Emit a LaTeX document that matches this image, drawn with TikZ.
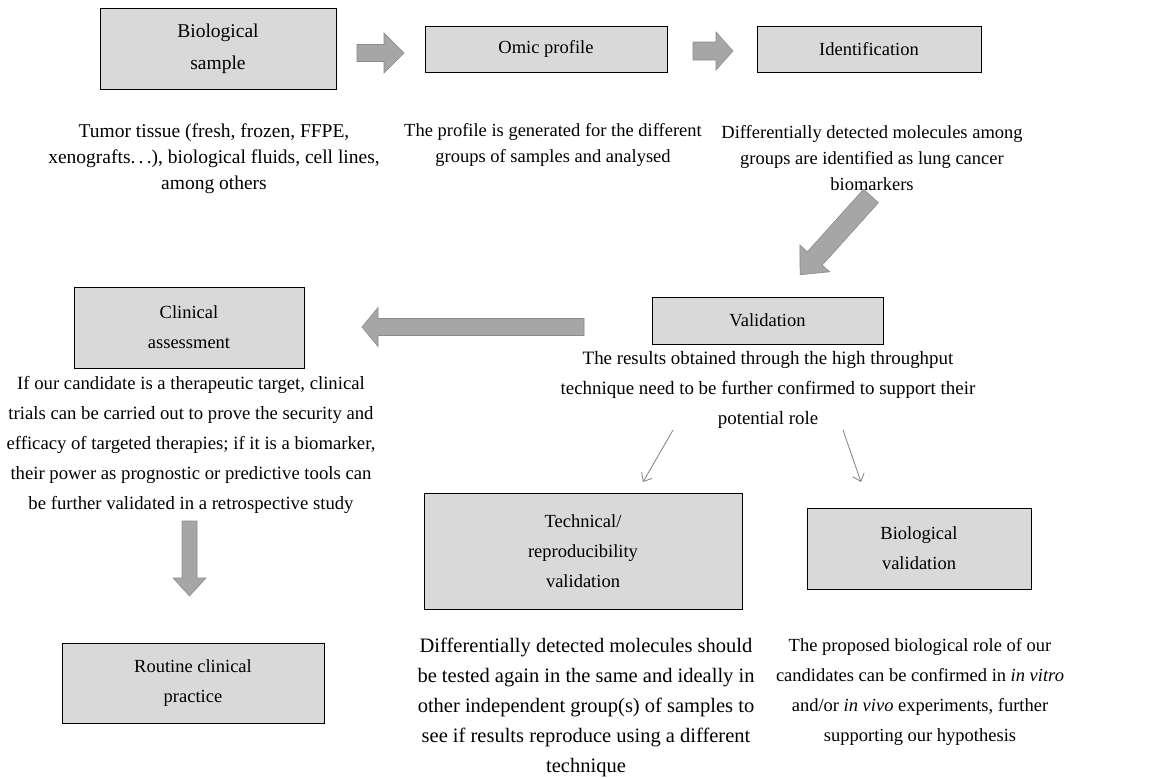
\documentclass[tikz,border=0pt]{standalone}
\usepackage{fontspec}
\setmainfont{Liberation Serif}
\usetikzlibrary{arrows.meta}
\definecolor{boxfill}{HTML}{D9D9D9}
\definecolor{arrfill}{HTML}{A6A6A6}
\definecolor{arrline}{HTML}{8C8C8C}
\definecolor{thinline}{HTML}{808080}
% start, angle, length, shaft half width, head half width, head length
\newcommand{\blockarrow}[6]{%
  \draw[bigarr, shift={#1}, rotate=#2] (0,-#4) -- ({#3-#6},-#4) -- ({#3-#6},-#5) -- (#3,0)
    -- ({#3-#6},#5) -- ({#3-#6},#4) -- (0,#4) -- cycle;}
\newcommand{\fs}[2]{\fontsize{#1}{#2}\selectfont}
\begin{document}
\begin{tikzpicture}[x=1pt,y=-1pt,
  box/.style={draw=black, fill=boxfill, line width=0.9pt, align=center, inner sep=0pt,
    font=\fs{18.5}{30}},
  desc/.style={align=center, inner sep=0pt},
  bigarr/.style={fill=arrfill, draw=arrline, line width=0.6pt, line join=miter},
  thinarr/.style={draw=thinline, line width=0.8pt, -{Straight Barb[length=7pt,width=12pt]}}]
\useasboundingbox[fill=white] (0,0) rectangle (1157,777);

% boxes
\node[box, minimum width=236pt, minimum height=81pt, font=\fs{19.5}{32}] (bs) at (218,48.5) {Biological\\sample};
\node[box, minimum width=242pt, minimum height=46pt] (op) at (546,49) {Omic profile};
\node[box, minimum width=224pt, minimum height=46pt] (id) at (869,49) {Identification};
\node[box, minimum width=230pt, minimum height=81pt] (ca) at (189,327.5) {Clinical\\assessment};
\node[box, minimum width=231pt, minimum height=47pt] (val) at (767.5,320.5) {Validation};
\node[box, minimum width=318pt, minimum height=116pt] (tech) at (583,551) {Technical/\\reproducibility\\validation};
\node[box, minimum width=224pt, minimum height=81pt] (bv) at (919,548.5) {Biological\\validation};
\node[box, minimum width=262pt, minimum height=80pt] (rcp) at (193,683) {Routine clinical\\practice};

% descriptions
\node[desc, font=\fs{19.5}{26}] (d1) at (214,159) {Tumor tissue (fresh, frozen, FFPE,\\xenografts.\,.\,.), biological fluids, cell lines,\\among others};
\node[desc, font=\fs{18.5}{26}] (d2) at (553,145) {The profile is generated for the different\\groups of samples and analysed};
\node[desc, font=\fs{18.5}{26}] (d3) at (872,158) {Differentially detected molecules among\\groups are identified as lung cancer\\biomarkers};
\node[desc, font=\fs{18.9}{30}] (dval) at (768,390) {The results obtained through the high throughput\\technique need to be further confirmed to support their\\potential role};
\node[desc, font=\fs{18.7}{30}] (dca) at (191,445) {If our candidate is a therapeutic target, clinical\\trials can be carried out to prove the security and\\efficacy of targeted therapies; if it is a biomarker,\\their power as prognostic or predictive tools can\\be further validated in a retrospective study};
\node[desc, font=\fs{20.5}{30}] (dtech) at (586,707) {Differentially detected molecules should\\be tested again in the same and ideally in\\other independent group(s) of samples to\\see if results reproduce using a different\\technique};
\node[desc, font=\fs{18.5}{30}] (dbv) at (920,692) {The proposed biological role of our\\candidates can be confirmed in \textit{in vitro}\\and/or \textit{in vivo} experiments, further\\supporting our hypothesis};

% block arrows
\blockarrow{(357,53)}{0}{47}{8.5}{20}{20}
\blockarrow{(693,51)}{0}{40}{9}{19}{17}
\blockarrow{(871,196)}{228}{106}{10}{20}{22}
\blockarrow{(584,327)}{180}{222}{8.5}{19.5}{16}
\blockarrow{(189.5,521)}{-90}{75}{7.5}{16.5}{18}

% thin arrows
\coordinate (t1s) at (673,430);
\coordinate (t1e) at (643,482);
\coordinate (t2s) at (843,430);
\coordinate (t2e) at (861,482);
\draw[thinarr] (t1s) -- (t1e);
\draw[thinarr] (t2s) -- (t2e);
\end{tikzpicture}
\end{document}
